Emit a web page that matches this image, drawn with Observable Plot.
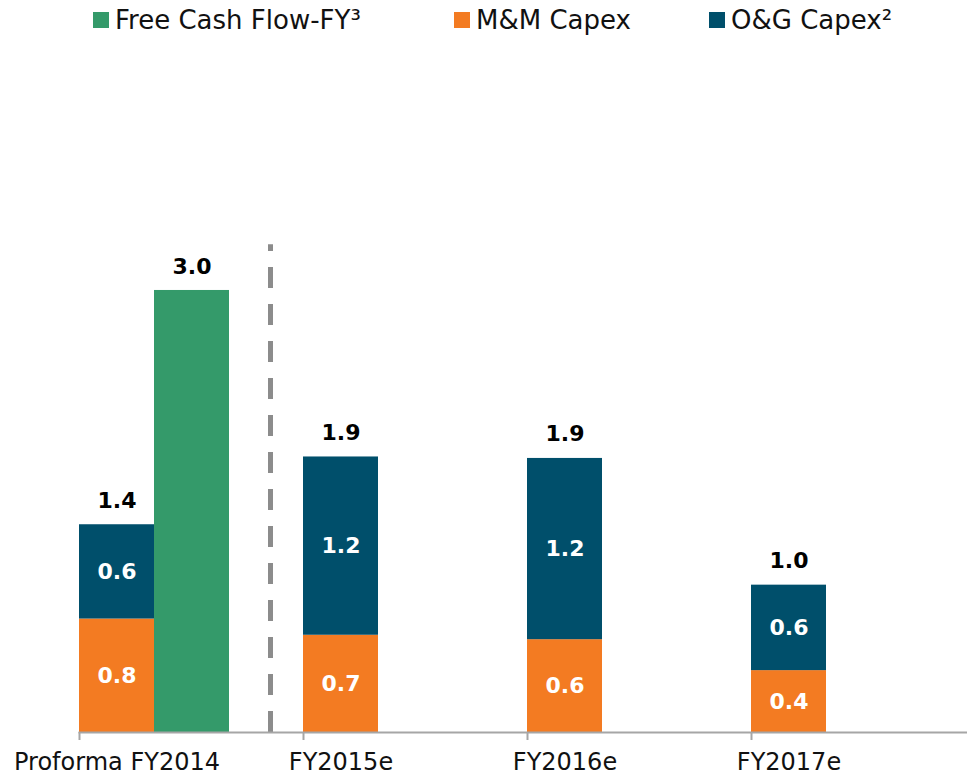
<!DOCTYPE html>
<html>
<head>
<meta charset="utf-8">
<script src="https://cdn.jsdelivr.net/npm/d3@7"></script>
<script src="https://cdn.jsdelivr.net/npm/@observablehq/plot@0.6"></script>
<style>
  html, body { margin: 0; padding: 0; background: #fff; overflow: hidden; }
  body { width: 967px; height: 776px; font-family: "DejaVu Sans", Verdana, sans-serif; }
  #legend { height: 45px; box-sizing: border-box; padding-left: 93px; padding-top: 5px; display: flex; align-items: flex-start; }
  .item { display: flex; align-items: center; font-size: 26px; line-height: 30px; color: #111; white-space: nowrap; }
  .item:nth-child(1) { width: 361px; }
  .item:nth-child(2) { width: 255px; }
  .sw { width: 16px; height: 16px; margin-right: 6px; display: inline-block; }
  svg { display: block; }
</style>
</head>
<body>
<div id="legend"></div>
<div id="chart"></div>
<script>
// ---- data ----
const categories = ["Proforma FY2014", "FY2015e", "FY2016e", "FY2017e"];
const mmCapex = [0.77, 0.66, 0.63, 0.42];
const ogCapex = [0.64, 1.21, 1.23, 0.58];
const fcfCategories = ["Proforma FY2014"];
const fcfValues = [3.0];
const seriesNames = ["Free Cash Flow-FY³", "M&M Capex", "O&G Capex²"];
const seriesColors = ["#349a6a", "#f37b22", "#004f6b"];
const dividerBefore = ["FY2015e"];
const dividerTop = 3.31;

// ---- tables ----
const stackOrder = [seriesNames[1], seriesNames[2]];
const stackRows = categories.flatMap((c, i) => [
  {category: c, series: seriesNames[1], value: mmCapex[i]},
  {category: c, series: seriesNames[2], value: ogCapex[i]}
]);
const totals = categories.map((c, i) => ({category: c, value: mmCapex[i] + ogCapex[i]}));
const fcfRows = fcfCategories.map((c, i) => ({category: c, series: seriesNames[0], value: fcfValues[i]}));

// ---- legend ----
const legend = document.getElementById("legend");
seriesNames.forEach((name, i) => {
  const it = document.createElement("div");
  it.className = "item";
  const sw = document.createElement("span");
  sw.className = "sw";
  sw.style.background = seriesColors[i];
  it.appendChild(sw);
  it.appendChild(document.createTextNode(name));
  legend.appendChild(it);
});

// ---- chart ----
const font = "'DejaVu Sans', Verdana, sans-serif";
const barW = 75;
const chart = Plot.plot({
  width: 967,
  height: 731,
  marginLeft: 78.5,
  marginRight: 0,
  marginTop: 171.3,
  marginBottom: 44,
  style: {fontFamily: font, fontSize: "24px", background: "#fff", overflow: "visible"},
  x: {domain: categories, paddingInner: 0.6662, paddingOuter: 0.3113, align: 0},
  y: {domain: [0, 3.5], axis: null},
  color: {domain: seriesNames, range: seriesColors},
  marks: [
    Plot.barY(stackRows, {x: "category", y: "value", fill: "series", z: "series", order: stackOrder}),
    Plot.barY(fcfRows, {x: "category", y: "value", fill: "series", dx: barW}),
    Plot.ruleX(dividerBefore, {x: d => d, y1: 0, y2: dividerTop, dx: -70.5, stroke: "#8c8c8c", strokeWidth: 5, strokeDasharray: "21,16"}),
    Plot.ruleY([0], {stroke: "#a6a6a6", strokeWidth: 2}),
    Plot.text(stackRows, Plot.stackY({
      x: "category", y: "value", z: "series", order: stackOrder,
      text: d => d.value.toFixed(1),
      fill: "white", fontWeight: "bold", fontSize: 22, fontFamily: font, lineAnchor: "middle"
    })),
    Plot.text(totals, {x: "category", y: "value", text: d => d.value.toFixed(1), dy: -24,
      fill: "#000", fontWeight: "bold", fontSize: 22, fontFamily: font, lineAnchor: "middle"}),
    Plot.text(fcfRows, {x: "category", y: "value", text: d => d.value.toFixed(1), dx: barW, dy: -24,
      fill: "#000", fontWeight: "bold", fontSize: 22, fontFamily: font, lineAnchor: "middle"}),
    Plot.axisX({tickSize: 8, tickFormat: () => "", dx: -barW / 2, stroke: "#a6a6a6", strokeWidth: 2, label: null}),
    Plot.axisX({tickSize: 0, tickPadding: 20, fontSize: 24, fill: "#111", label: null})
  ]
});
document.getElementById("chart").appendChild(chart);
</script>
</body>
</html>
